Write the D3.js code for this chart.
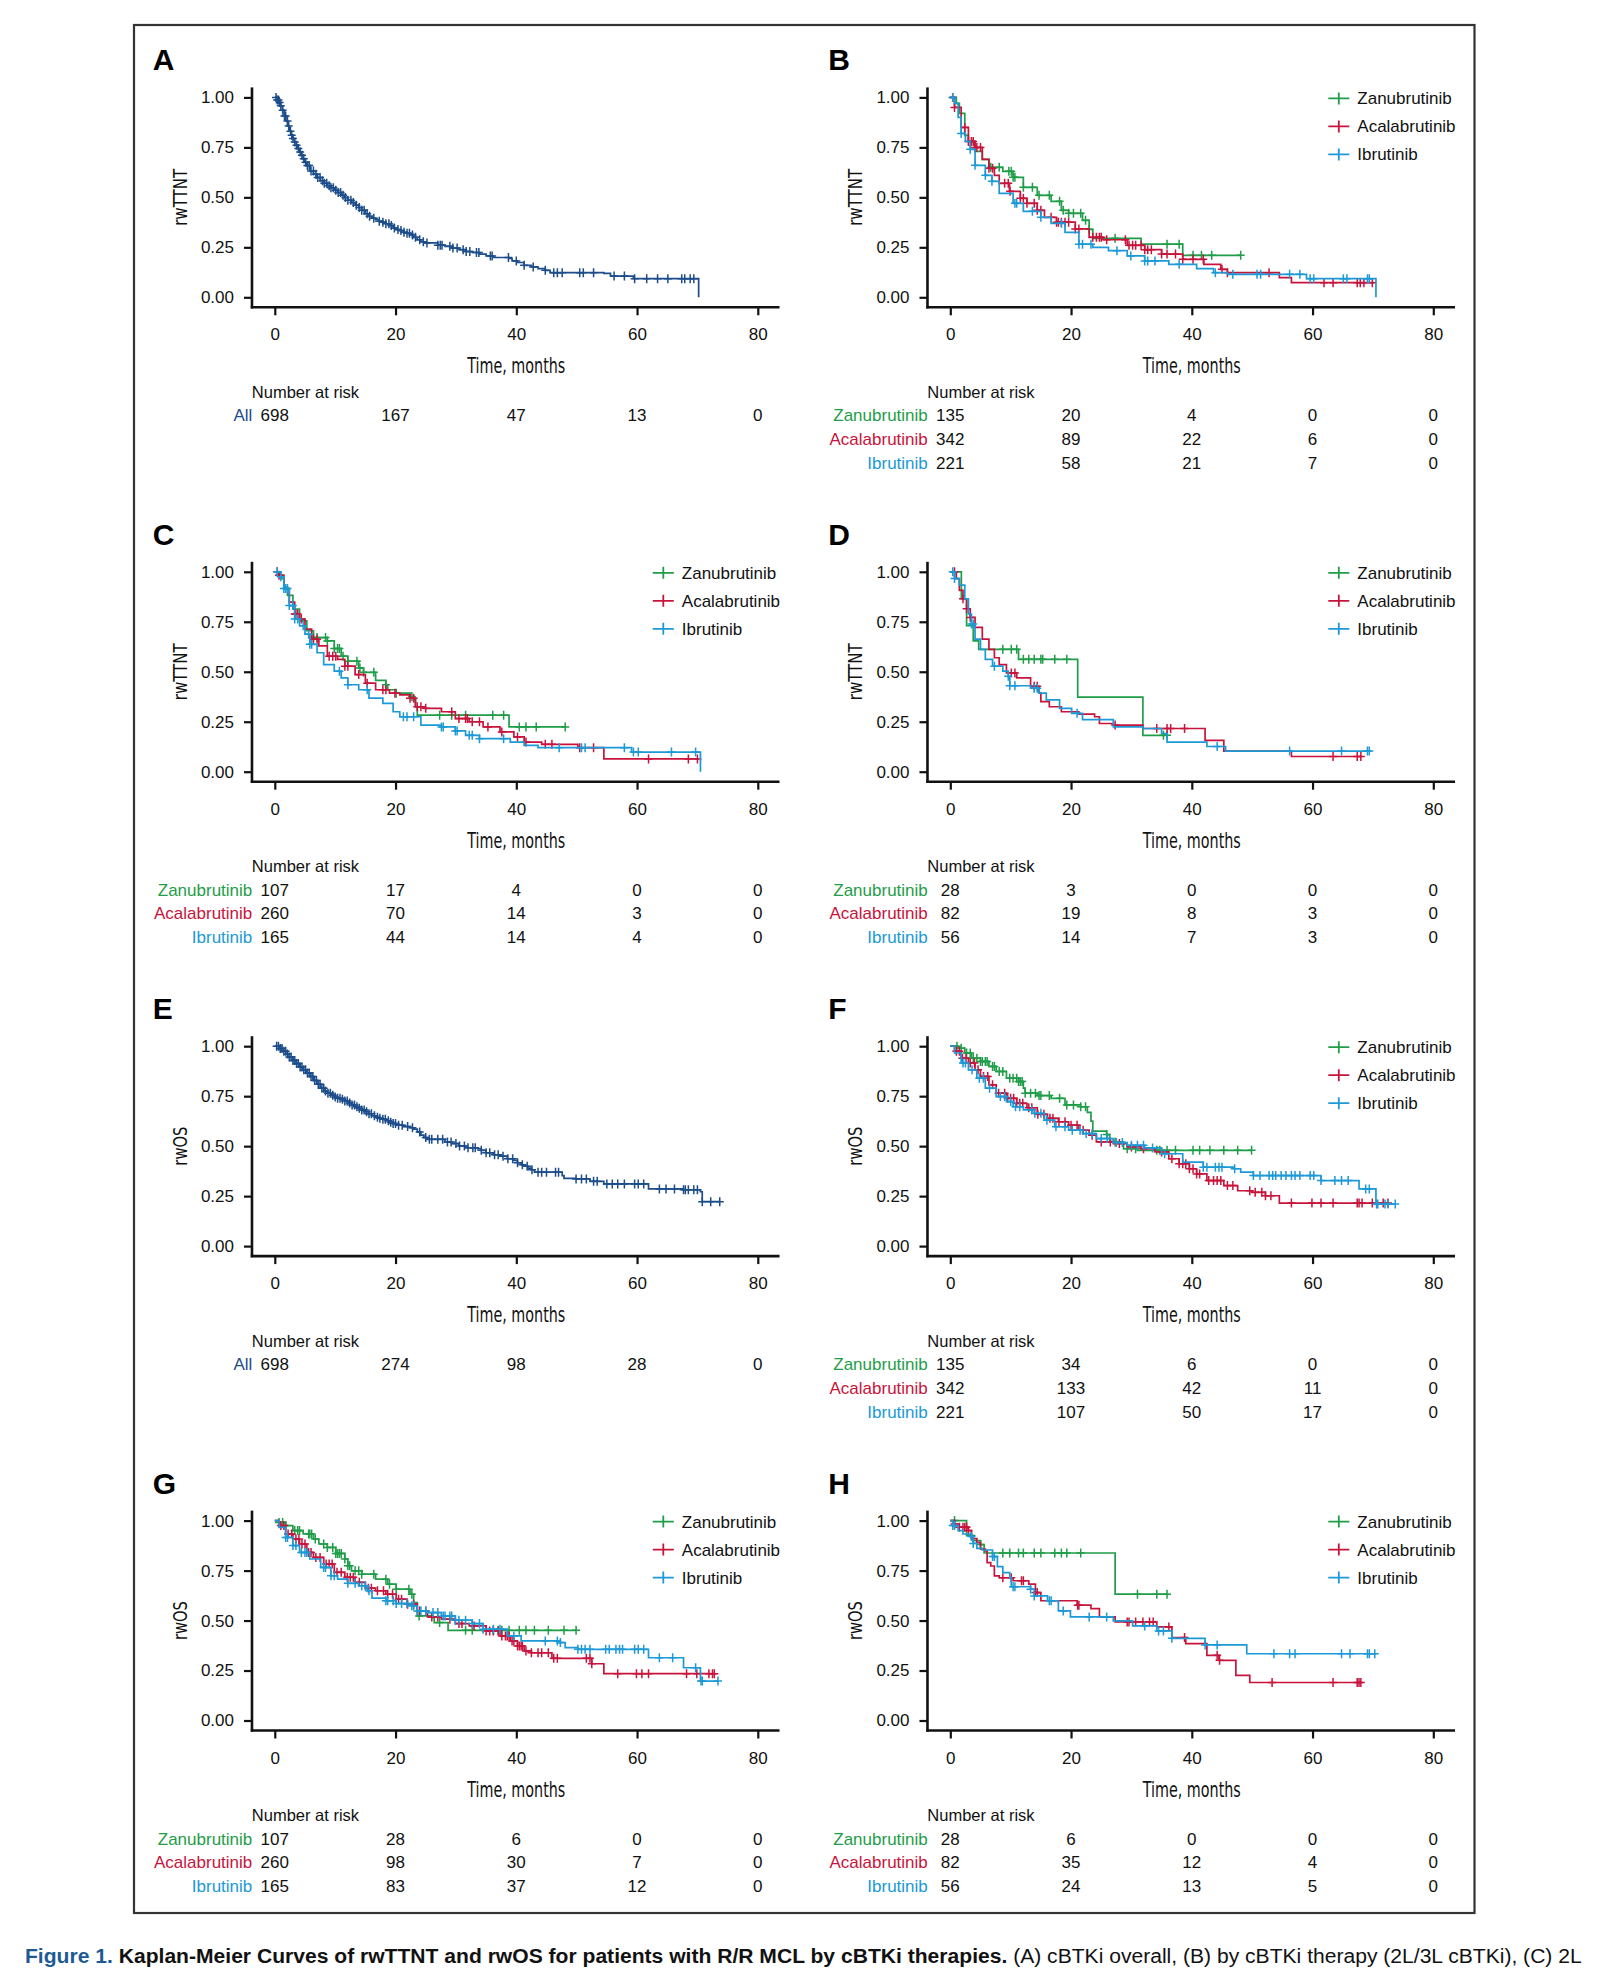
<!DOCTYPE html>
<html><head><meta charset="utf-8">
<script src="https://cdn.jsdelivr.net/npm/d3@7"></script>
<style>html,body{margin:0;padding:0;background:#fff;} svg{display:block;}</style>
</head><body>
<svg id="fig" width="1619" height="1982"></svg>
<script>
// ---------------- DATA ----------------
const timeTicks = [0, 20, 40, 60, 80];
const survTicks = [0, 0.25, 0.5, 0.75, 1];
const groupNames = ["Zanubrutinib", "Acalabrutinib", "Ibrutinib"];
const panelLetters = ["A","B","C","D","E","F","G","H"];
const yLabels = ["rwTTNT","rwTTNT","rwTTNT","rwTTNT","rwOS","rwOS","rwOS","rwOS"];

// Panel A: cBTKi overall, rwTTNT  [time (months), survival] step points
const A_all = [[0,1],[0.4,0.987],[0.69,0.975],[0.97,0.958],[1.26,0.936],[1.55,0.907],[1.83,0.882],[2.12,0.857],[2.4,0.831],[2.69,0.811],[2.98,0.794],[3.26,0.777],[3.55,0.761],[3.84,0.744],[4.12,0.727],[4.41,0.71],[4.69,0.693],[4.98,0.676],[5.27,0.659],[5.84,0.632],[6.41,0.616],[6.98,0.599],[7.56,0.583],[8.13,0.57],[8.7,0.558],[9.27,0.548],[9.85,0.536],[10.42,0.524],[11.0,0.511],[11.6,0.499],[12.1,0.486],[12.7,0.474],[13.3,0.461],[13.9,0.449],[14.4,0.435],[15.0,0.418],[15.6,0.405],[16.1,0.396],[16.7,0.388],[17.3,0.381],[17.9,0.376],[18.4,0.368],[19.0,0.359],[19.6,0.347],[20.1,0.339],[20.7,0.334],[21.3,0.325],[21.9,0.32],[22.4,0.312],[23.0,0.3],[23.6,0.288],[24.2,0.278],[24.7,0.272],[27.0,0.261],[28.2,0.255],[29.3,0.246],[30.5,0.238],[31.6,0.229],[32.7,0.224],[33.9,0.216],[35.0,0.207],[36.2,0.199],[38.8,0.194],[39.3,0.182],[40.2,0.174],[41.3,0.16],[42.5,0.152],[43.6,0.143],[44.8,0.135],[45.6,0.123],[54.5,0.12],[55.6,0.106],[59.4,0.093],[70.2,0.093],[70.2,0]];
const A_allCens = [0.2,0.4,0.6,0.8,1.0,1.3,1.6,1.8,2.1,2.3,2.6,2.8,3.0,3.3,3.6,3.9,4.2,4.5,4.8,5.1,5.4,5.7,6.0,6.4,6.8,7.1,7.5,7.9,8.2,8.6,9.0,9.3,9.7,10.1,10.5,10.9,11.3,11.7,12.1,12.6,13.0,13.5,14.0,14.4,14.8,15.3,15.7,16.4,17.3,17.9,18.4,18.9,19.3,19.8,20.4,20.9,21.4,21.9,22.3,22.8,23.3,24.0,24.6,25.2,27.0,27.4,27.7,29.0,29.5,30.2,31.2,31.7,32.3,33.4,33.8,35.7,36.0,38.7,40.0,41.3,42.8,44.8,46.2,46.8,47.6,50.5,51.1,52.8,56.2,57.9,59.6,61.6,63.4,65.1,67.4,67.9,68.8,69.4];

// Panel B: by cBTKi therapy (2L/3L), rwTTNT
const B_zan = [[0,1],[1.0,0.97],[1.5,0.92],[2.4,0.81],[3.0,0.78],[4.1,0.73],[5.3,0.69],[6.4,0.65],[8.7,0.63],[10.4,0.6],[12.1,0.55],[14.4,0.51],[16.7,0.48],[18.4,0.435],[19.6,0.42],[21.9,0.385],[23.0,0.34],[23.6,0.295],[31.6,0.266],[38.5,0.21],[48.1,0.21]];
const B_zanCens = [6.7,8.1,9.7,10.1,10.4,10.7,12.1,13.6,14.7,16.4,18.1,18.7,19.6,20.4,21.6,22.4,23.0,27.3,35.9,37.9,40.2,41.6,43.3,48.1];
const B_aca = [[0,1],[0.7,0.95],[1.8,0.85],[3.0,0.78],[4.1,0.75],[5.3,0.69],[6.4,0.645],[7.3,0.61],[8.1,0.57],[9.8,0.53],[11.6,0.495],[12.7,0.47],[14.4,0.435],[15.6,0.4],[17.6,0.376],[20.7,0.342],[23.0,0.3],[25.3,0.288],[29.3,0.26],[32.2,0.238],[35.0,0.216],[38.5,0.19],[42.0,0.165],[44.8,0.14],[45.9,0.123],[54.5,0.098],[56.5,0.073],[70.2,0.073]];
const B_acaCens = [0.4,0.7,2.4,3.0,3.5,3.8,4.1,4.4,5.0,6.4,7.0,9.0,9.6,9.9,11.6,12.1,12.7,13.9,14.4,15.0,16.7,17.6,17.9,18.4,19.0,19.6,20.7,21.3,23.6,24.2,24.7,25.0,25.9,29.0,29.6,30.2,30.7,31.6,32.2,32.7,33.3,35.0,35.9,37.3,38.5,40.2,41.9,45.0,45.9,52.8,61.9,63.4,67.4,67.9,68.5,69.9];
const B_ibr = [[0,1],[0.7,0.97],[1.3,0.9],[1.8,0.82],[2.5,0.78],[3.3,0.74],[4.1,0.66],[5.8,0.61],[6.9,0.58],[8.1,0.52],[10.4,0.47],[12.1,0.43],[15.0,0.4],[16.7,0.37],[19.0,0.325],[21.3,0.266],[23.6,0.25],[26.2,0.233],[29.3,0.207],[32.2,0.182],[36.2,0.165],[40.8,0.143],[43.6,0.123],[45.9,0.115],[59.0,0.093],[70.5,0.093],[70.5,0]];
const B_ibrCens = [0.4,1.8,3.3,4.1,5.8,6.9,10.7,11.0,13.6,15.0,18.4,21.3,21.9,23.3,27.6,29.9,32.2,32.7,33.9,37.9,43.9,46.8,50.8,51.4,56.2,57.9,59.6,60.2,65.1,65.7,69.1,69.4];

// Panel C: 2L cBTKi, rwTTNT
const C_zan = [[0,1],[1.0,0.966],[1.5,0.924],[2.1,0.882],[3.0,0.814],[4.1,0.755],[5.3,0.705],[6.4,0.671],[8.7,0.654],[9.85,0.616],[11.0,0.578],[12.1,0.553],[13.9,0.519],[14.7,0.497],[16.7,0.457],[18.4,0.435],[18.7,0.41],[20.1,0.393],[22.4,0.376],[23.0,0.359],[23.3,0.325],[23.6,0.283],[38.8,0.224],[48.1,0.224]];
const C_zanCens = [6.4,7.0,8.4,8.7,9.85,10.4,10.7,11.3,12.1,13.6,14.1,14.7,16.4,18.4,20.1,22.7,27.3,29.3,31.6,36.1,37.9,40.5,41.6,43.3,48.1];
const C_aca = [[0,1],[0.7,0.983],[1.5,0.916],[2.4,0.848],[3.3,0.789],[4.1,0.764],[5.0,0.713],[6.1,0.663],[7.3,0.629],[8.7,0.578],[10.4,0.562],[11.6,0.528],[13.3,0.486],[15.0,0.443],[16.7,0.41],[19.0,0.393],[20.7,0.384],[22.4,0.368],[23.3,0.325],[24.7,0.317],[27.6,0.3],[29.9,0.266],[32.2,0.25],[34.5,0.224],[37.3,0.199],[39.6,0.174],[41.3,0.148],[44.2,0.137],[50.2,0.12],[54.5,0.064],[70.2,0.064]];
const C_acaCens = [0.4,0.7,3.3,3.5,3.8,4.4,6.4,7.0,9.0,9.6,10.1,11.6,12.1,13.9,15.3,17.9,18.4,19.9,22.4,23.0,23.6,24.2,25.0,29.3,30.5,31.6,31.9,32.7,33.9,35.3,37.6,40.2,41.6,44.8,45.9,50.5,52.8,61.9,68.5,70.0];
const C_ibr = [[0,1],[1.0,0.975],[1.5,0.916],[2.4,0.831],[3.3,0.764],[4.1,0.73],[5.0,0.688],[5.8,0.637],[7.0,0.595],[8.1,0.536],[9.85,0.503],[11.0,0.469],[12.1,0.435],[13.9,0.41],[15.6,0.368],[17.9,0.342],[19.6,0.3],[20.7,0.275],[24.2,0.233],[27.6,0.224],[29.9,0.204],[31.6,0.182],[33.9,0.165],[39.0,0.148],[41.3,0.132],[43.6,0.12],[59.1,0.098],[70.5,0.098],[70.5,0]];
const C_ibrCens = [0.4,1.0,1.5,1.8,2.1,2.4,3.0,3.3,3.8,4.7,5.6,5.8,6.1,10.7,12.1,15.3,21.3,21.9,23.0,27.6,27.9,29.9,30.2,32.2,32.7,33.9,37.9,47.1,50.8,51.4,57.9,59.4,60.2,65.7,69.7];

// Panel D: 3L cBTKi, rwTTNT
const D_zan = [[0,1],[1.83,0.865],[2.7,0.73],[3.8,0.654],[4.7,0.612],[11.3,0.562],[21.1,0.373],[31.9,0.182],[36.1,0.182]];
const D_zanCens = [8.7,10.1,11.0,12.1,13.0,13.9,15.0,15.3,17.3,19.3,35.3,35.9];
const D_aca = [[0,1],[1.0,0.966],[1.5,0.907],[2.1,0.865],[2.7,0.815],[3.3,0.772],[4.1,0.722],[5.3,0.663],[6.4,0.612],[7.3,0.57],[8.1,0.536],[9.3,0.494],[11.0,0.469],[13.3,0.427],[14.7,0.393],[15.0,0.351],[16.4,0.325],[18.4,0.3],[21.3,0.288],[23.9,0.275],[24.7,0.241],[27.0,0.233],[31.9,0.216],[42.2,0.157],[45.3,0.103],[56.5,0.076],[68.2,0.076]];
const D_acaCens = [0.7,2.1,2.7,3.3,10.1,10.7,13.9,14.4,27.3,34.2,35.9,36.5,38.8,63.4,67.4,68.0];
const D_ibr = [[0,1],[0.7,0.966],[1.5,0.933],[2.4,0.865],[3.0,0.789],[3.5,0.739],[4.1,0.663],[5.0,0.612],[5.8,0.562],[7.0,0.528],[8.7,0.503],[9.6,0.477],[9.85,0.43],[13.3,0.418],[14.7,0.393],[15.9,0.359],[18.1,0.317],[20.1,0.292],[21.9,0.261],[27.0,0.224],[31.9,0.216],[35.0,0.191],[35.9,0.148],[42.5,0.126],[45.6,0.103],[69.4,0.103]];
const D_ibrCens = [0.4,0.7,3.5,3.8,7.3,9.6,9.85,10.7,13.9,14.4,21.0,44.2,56.2,64.8,69.1,69.4];

// Panel E: cBTKi overall, rwOS
const E_all = [[0,1],[0.69,0.988],[1.26,0.975],[1.83,0.961],[2.4,0.946],[2.98,0.929],[3.55,0.913],[4.12,0.896],[4.69,0.882],[5.27,0.866],[5.84,0.849],[6.41,0.829],[6.98,0.81],[7.56,0.79],[8.13,0.776],[8.7,0.765],[9.27,0.755],[9.85,0.746],[10.4,0.739],[11.0,0.734],[11.6,0.726],[12.1,0.716],[12.7,0.706],[13.3,0.697],[13.9,0.689],[14.4,0.681],[15.0,0.672],[15.6,0.662],[16.1,0.652],[16.7,0.644],[17.3,0.639],[17.9,0.634],[18.4,0.627],[19.0,0.62],[19.6,0.613],[20.1,0.605],[21.3,0.598],[22.4,0.592],[23.0,0.585],[23.6,0.571],[24.2,0.555],[24.7,0.543],[25.3,0.534],[28.2,0.521],[29.3,0.513],[30.5,0.501],[31.6,0.492],[33.6,0.487],[34.2,0.479],[35.0,0.467],[36.2,0.457],[37.3,0.45],[38.5,0.437],[39.6,0.429],[40.2,0.417],[40.8,0.407],[41.3,0.4],[41.9,0.39],[42.5,0.382],[43.0,0.37],[47.6,0.353],[47.9,0.339],[49.9,0.336],[52.2,0.324],[54.5,0.311],[61.9,0.286],[67.7,0.282],[70.5,0.272],[70.8,0.222],[73.7,0.222]];
const E_allCens = [0.3,0.6,0.9,1.2,1.5,1.8,2.1,2.4,2.7,3.0,3.3,3.6,3.9,4.2,4.5,4.8,5.1,5.4,5.7,6.0,6.3,6.6,6.9,7.2,7.5,7.8,8.1,8.4,8.8,9.2,9.6,10.0,10.4,10.8,11.2,11.6,12.0,12.4,12.8,13.2,13.6,14.0,14.4,14.8,15.2,15.6,16.0,16.5,17.0,17.4,17.9,18.3,18.8,19.2,19.6,20.0,20.5,21.1,22.0,22.8,24.0,25.0,25.6,26.0,27.0,27.8,28.6,29.2,30.0,30.6,31.4,32.0,32.8,33.2,34.2,35.0,35.6,36.4,37.0,37.8,38.6,39.4,40.2,41.0,41.8,42.6,43.6,44.2,45.0,46.5,47.0,49.9,50.8,51.6,52.8,53.4,55.0,55.9,56.8,57.9,59.6,60.2,61.1,63.7,64.8,66.2,67.7,68.0,68.5,69.4,70.0,70.8,72.2,73.7];

// Panel F: by cBTKi therapy (2L/3L), rwOS
const F_zan = [[0,1],[1.3,0.99],[2.4,0.966],[3.5,0.94],[5.0,0.924],[6.4,0.899],[7.6,0.874],[9.3,0.84],[11.3,0.824],[12.1,0.79],[12.4,0.765],[14.4,0.753],[16.7,0.739],[19.0,0.706],[21.6,0.697],[22.7,0.669],[23.3,0.625],[23.6,0.575],[25.9,0.558],[26.4,0.524],[27.3,0.521],[28.7,0.487],[31.0,0.479],[49.9,0.479]];
const F_zanCens = [1.1,1.8,2.7,3.3,3.8,4.4,5.0,5.3,5.8,6.1,7.0,7.3,8.1,8.7,9.85,10.4,11.0,11.3,11.6,11.9,12.4,13.3,14.1,14.7,15.0,16.4,18.1,19.3,20.4,21.6,22.4,25.9,27.3,29.3,30.7,34.2,34.7,35.9,37.3,40.2,41.3,43.0,45.3,47.6,49.9];
const F_aca = [[0,1],[0.7,0.975],[1.8,0.94],[3.0,0.916],[4.1,0.882],[5.0,0.849],[6.4,0.807],[7.6,0.765],[9.3,0.739],[11.0,0.714],[12.7,0.692],[14.4,0.659],[16.1,0.639],[17.9,0.622],[19.6,0.605],[21.3,0.58],[23.0,0.555],[24.2,0.521],[27.0,0.513],[29.3,0.496],[31.6,0.487],[33.9,0.471],[36.2,0.437],[37.9,0.412],[39.6,0.387],[40.8,0.361],[42.5,0.328],[45.3,0.303],[47.6,0.277],[49.9,0.269],[52.2,0.252],[54.5,0.215],[72.5,0.215]];
const F_acaCens = [1.0,1.5,2.0,2.6,3.3,4.0,4.6,5.5,6.2,7.0,8.0,9.0,9.5,10.0,10.5,11.0,11.5,12.0,13.0,13.5,14.5,15.5,16.5,17.0,18.0,19.0,20.0,21.0,22.0,23.5,25.0,26.5,28.0,30.0,32.0,35.0,36.7,37.9,38.5,39.0,39.6,40.2,40.8,41.3,42.8,43.6,44.2,44.8,45.9,46.8,49.6,50.5,51.6,52.2,53.1,56.5,59.9,61.4,63.4,67.4,67.7,68.2,69.9,71.7,72.5];
const F_ibr = [[0,1],[0.7,0.966],[1.8,0.916],[3.0,0.882],[4.4,0.84],[5.8,0.79],[7.6,0.748],[9.3,0.723],[10.4,0.697],[12.1,0.681],[13.9,0.664],[15.6,0.63],[17.3,0.597],[19.6,0.58],[21.9,0.563],[24.2,0.538],[27.0,0.518],[29.3,0.504],[32.2,0.491],[35.0,0.462],[38.5,0.42],[41.9,0.395],[47.0,0.387],[48.1,0.37],[50.2,0.353],[61.4,0.328],[67.7,0.286],[70.5,0.21],[73.7,0.21]];
const F_ibrCens = [2.1,2.5,3.6,4.8,5.5,6.5,8.3,9.0,10.0,10.8,11.5,13.5,14.0,15.0,16.0,17.5,19.0,20.2,21.5,22.5,23.5,25.0,26.0,27.5,28.5,30.0,31.0,32.0,33.5,35.5,41.9,42.5,43.9,44.5,45.0,47.1,50.2,51.3,52.8,53.4,53.9,54.8,55.6,56.5,57.1,57.9,59.6,60.2,61.4,63.7,64.8,65.9,68.8,69.4,70.6,70.8,72.0,72.5,73.7];

// Panel G: 2L cBTKi, rwOS
const G_zan = [[0,1],[0.7,0.99],[1.8,0.975],[3.0,0.95],[4.7,0.933],[6.4,0.908],[7.3,0.883],[8.7,0.866],[10.1,0.836],[11.6,0.808],[12.1,0.774],[12.7,0.749],[14.4,0.732],[16.7,0.707],[18.7,0.682],[20.1,0.657],[22.4,0.632],[23.0,0.59],[23.6,0.523],[26.2,0.515],[26.4,0.49],[28.7,0.451],[49.9,0.451]];
const G_zanCens = [0.7,1.3,1.8,3.3,3.8,4.1,5.6,5.8,6.1,6.7,8.1,8.7,9.6,10.1,10.4,10.7,11.0,11.6,12.1,12.4,13.3,13.9,14.4,16.4,18.4,19.0,20.1,22.2,22.7,23.9,27.3,31.6,32.7,36.2,37.0,37.6,38.8,40.5,41.6,43.0,45.3,47.9,49.9];
const G_aca = [[0,1],[0.7,0.975],[1.8,0.933],[3.0,0.908],[4.1,0.883],[5.3,0.841],[6.4,0.816],[8.1,0.783],[9.85,0.741],[11.6,0.716],[13.3,0.691],[15.0,0.662],[16.7,0.649],[18.4,0.632],[20.1,0.607],[21.9,0.582],[23.6,0.548],[25.3,0.518],[27.6,0.507],[29.9,0.485],[32.2,0.473],[35.0,0.448],[37.3,0.423],[39.0,0.398],[40.2,0.373],[41.3,0.348],[42.5,0.339],[45.9,0.311],[52.5,0.284],[54.5,0.234],[72.8,0.234]];
const G_acaCens = [1.0,1.5,2.2,2.8,3.5,4.0,4.5,5.0,5.6,6.0,6.8,7.5,8.5,9.0,9.5,10.3,11.0,12.0,12.5,13.0,14.0,15.5,16.0,17.0,18.0,18.7,19.5,20.5,21.0,22.0,23.0,24.0,25.0,26.0,27.0,29.0,30.5,31.0,33.0,35.0,35.6,36.2,37.0,37.6,38.2,38.5,38.8,39.3,39.6,40.2,40.5,40.8,41.0,41.6,42.5,43.6,44.2,45.3,46.2,46.8,51.6,52.2,52.5,56.8,59.9,60.8,61.9,68.2,69.9,71.9,72.5,72.8];
const G_ibr = [[0,1],[0.7,0.966],[1.8,0.916],[3.0,0.875],[4.1,0.841],[5.8,0.808],[7.6,0.766],[9.3,0.724],[10.4,0.707],[12.1,0.686],[13.9,0.674],[15.3,0.649],[16.1,0.612],[18.4,0.599],[20.1,0.585],[22.4,0.574],[23.6,0.548],[25.3,0.54],[27.6,0.523],[29.9,0.502],[32.7,0.485],[34.5,0.457],[38.5,0.423],[40.8,0.398],[47.0,0.39],[48.1,0.365],[50.2,0.356],[61.9,0.314],[67.7,0.264],[70.5,0.197],[73.4,0.197]];
const G_ibrCens = [1.8,2.1,3.0,3.5,4.4,5.0,5.3,8.1,8.4,9.3,9.85,12.1,13.3,14.4,15.0,15.6,18.4,18.7,19.6,20.1,21.0,21.9,22.7,23.0,23.6,24.2,25.0,26.2,27.0,27.9,28.2,29.0,29.3,29.9,30.5,31.6,32.7,33.9,34.5,36.2,37.3,39.6,44.8,46.8,47.3,50.2,50.8,51.4,52.2,54.8,55.4,56.5,57.1,57.6,59.6,60.2,61.1,63.7,65.9,69.7,70.6,70.8,73.4];

// Panel H: 3L cBTKi, rwOS
const H_zan = [[0,1],[2.7,0.925],[3.8,0.9],[5.0,0.88],[5.6,0.838],[27.3,0.632],[36.1,0.632]];
const H_zanCens = [0.7,3.5,5.0,8.7,9.85,11.3,12.1,13.9,15.0,17.3,18.4,19.3,21.6,31.0,34.2,35.9];
const H_aca = [[0,1],[0.7,0.983],[1.5,0.967],[3.0,0.95],[3.5,0.91],[4.4,0.89],[5.0,0.857],[5.8,0.848],[6.1,0.79],[6.7,0.773],[7.3,0.723],[8.1,0.714],[10.4,0.699],[13.0,0.682],[14.1,0.64],[15.0,0.599],[21.0,0.577],[23.3,0.56],[24.7,0.518],[27.3,0.493],[34.2,0.468],[36.7,0.415],[39.0,0.385],[42.5,0.326],[44.5,0.301],[47.3,0.226],[49.6,0.19],[68.2,0.19]];
const H_acaCens = [0.7,1.5,2.1,2.4,2.7,3.0,8.7,10.1,11.8,12.1,14.1,14.4,21.1,21.3,29.3,29.6,30.7,31.9,33.0,33.6,36.2,38.8,44.2,44.6,53.3,63.4,67.4,67.7,68.0];
const H_ibr = [[0,1],[0.4,0.975],[1.3,0.95],[2.1,0.933],[3.3,0.92],[3.8,0.886],[4.4,0.861],[5.3,0.853],[7.0,0.82],[7.8,0.77],[8.7,0.74],[9.85,0.716],[10.1,0.669],[13.3,0.657],[13.9,0.623],[16.1,0.599],[17.9,0.548],[19.9,0.518],[27.0,0.498],[30.2,0.473],[34.2,0.448],[36.7,0.411],[42.2,0.378],[49.1,0.334],[70.5,0.334]];
const H_ibrCens = [0.4,0.7,3.5,3.8,7.0,7.3,10.4,10.7,13.3,13.9,16.4,16.7,18.7,23.0,25.9,32.2,34.5,35.3,36.7,42.2,44.2,53.6,56.2,57.1,64.8,66.2,69.1,69.4,70.3];

// Number at risk (at 0, 20, 40, 60, 80 months)
const riskA_all = [698,167,47,13,0];
const riskB_zan = [135,20,4,0,0], riskB_aca = [342,89,22,6,0], riskB_ibr = [221,58,21,7,0];
const riskC_zan = [107,17,4,0,0], riskC_aca = [260,70,14,3,0], riskC_ibr = [165,44,14,4,0];
const riskD_zan = [28,3,0,0,0], riskD_aca = [82,19,8,3,0], riskD_ibr = [56,14,7,3,0];
const riskE_all = [698,274,98,28,0];
const riskF_zan = [135,34,6,0,0], riskF_aca = [342,133,42,11,0], riskF_ibr = [221,107,50,17,0];
const riskG_zan = [107,28,6,0,0], riskG_aca = [260,98,30,7,0], riskG_ibr = [165,83,37,12,0];
const riskH_zan = [28,6,0,0,0], riskH_aca = [82,35,12,4,0], riskH_ibr = [56,24,13,5,0];

const captionBlue = "Figure 1.";
const captionBold = " Kaplan-Meier Curves of rwTTNT and rwOS for patients with R/R MCL by cBTKi therapies.";
const captionNormal = " (A) cBTKi overall, (B) by cBTKi therapy (2L/3L cBTKi), (C) 2L";

// ---------------- STYLE ----------------
const COL_ALL = "#1c4d8a", COL_ZAN = "#1f9d48", COL_ACA = "#c8143c", COL_IBR = "#1c99d6";
const groupColors = [COL_ZAN, COL_ACA, COL_IBR];
const FONT = "'Liberation Sans', Arial, Helvetica, sans-serif";
const NARROW = "'Liberation Sans Narrow', 'DejaVu Sans Condensed', 'Liberation Sans', sans-serif";

const svg = d3.select("#fig");
svg.append("rect").attr("width",1619).attr("height",1982).attr("fill","#fff");
svg.append("rect").attr("x",134).attr("y",25).attr("width",1340.5).attr("height",1888)
  .attr("fill","none").attr("stroke","#333").attr("stroke-width",2.2);

const panels = [
  {s:[{c:COL_ALL,d:A_all,k:A_allCens}], risk:[["All",COL_ALL,riskA_all]], legend:false},
  {s:[{c:COL_ZAN,d:B_zan,k:B_zanCens},{c:COL_ACA,d:B_aca,k:B_acaCens},{c:COL_IBR,d:B_ibr,k:B_ibrCens}], risk:[[groupNames[0],COL_ZAN,riskB_zan],[groupNames[1],COL_ACA,riskB_aca],[groupNames[2],COL_IBR,riskB_ibr]], legend:true},
  {s:[{c:COL_ZAN,d:C_zan,k:C_zanCens},{c:COL_ACA,d:C_aca,k:C_acaCens},{c:COL_IBR,d:C_ibr,k:C_ibrCens}], risk:[[groupNames[0],COL_ZAN,riskC_zan],[groupNames[1],COL_ACA,riskC_aca],[groupNames[2],COL_IBR,riskC_ibr]], legend:true},
  {s:[{c:COL_ZAN,d:D_zan,k:D_zanCens},{c:COL_ACA,d:D_aca,k:D_acaCens},{c:COL_IBR,d:D_ibr,k:D_ibrCens}], risk:[[groupNames[0],COL_ZAN,riskD_zan],[groupNames[1],COL_ACA,riskD_aca],[groupNames[2],COL_IBR,riskD_ibr]], legend:true},
  {s:[{c:COL_ALL,d:E_all,k:E_allCens}], risk:[["All",COL_ALL,riskE_all]], legend:false},
  {s:[{c:COL_ZAN,d:F_zan,k:F_zanCens},{c:COL_ACA,d:F_aca,k:F_acaCens},{c:COL_IBR,d:F_ibr,k:F_ibrCens}], risk:[[groupNames[0],COL_ZAN,riskF_zan],[groupNames[1],COL_ACA,riskF_aca],[groupNames[2],COL_IBR,riskF_ibr]], legend:true},
  {s:[{c:COL_ZAN,d:G_zan,k:G_zanCens},{c:COL_ACA,d:G_aca,k:G_acaCens},{c:COL_IBR,d:G_ibr,k:G_ibrCens}], risk:[[groupNames[0],COL_ZAN,riskG_zan],[groupNames[1],COL_ACA,riskG_aca],[groupNames[2],COL_IBR,riskG_ibr]], legend:true},
  {s:[{c:COL_ZAN,d:H_zan,k:H_zanCens},{c:COL_ACA,d:H_aca,k:H_acaCens},{c:COL_IBR,d:H_ibr,k:H_ibrCens}], risk:[[groupNames[0],COL_ZAN,riskH_zan],[groupNames[1],COL_ACA,riskH_aca],[groupNames[2],COL_IBR,riskH_ibr]], legend:true}
];

function stepValue(curve, t){
  let v = curve[0][1];
  for (const p of curve){ if (p[0] <= t) v = p[1]; else break; }
  return v;
}

panels.forEach((p, i) => {
  const col = i % 2, row = Math.floor(i / 2);
  const x0 = 274.8 + col * 675.5;
  const yTop = 97.4 + row * 474.4;
  const x = d3.scaleLinear().domain([0, 80]).range([x0, x0 + 483]);
  const y = d3.scaleLinear().domain([0, 1]).range([yTop + 199.9, yTop]);
  const g = svg.append("g");
  const axX = x(-3.78), axY = y(-0.05);

  // panel letter
  g.append("text").attr("x", x0 - 122).attr("y", yTop - 27)
    .attr("font-family", FONT).attr("font-weight", "bold").attr("font-size", 30).text(panelLetters[i]);

  // y axis
  const ya = g.append("g").attr("transform", `translate(${axX},0)`)
    .call(d3.axisLeft(y).tickValues(survTicks).tickFormat(d3.format(".2f")).tickSize(8).tickPadding(10));
  // x axis
  const xa = g.append("g").attr("transform", `translate(0,${axY})`)
    .call(d3.axisBottom(x).tickValues(timeTicks).tickSize(8).tickPadding(13));
  [ya, xa].forEach(a => {
    a.select(".domain").remove();
    a.selectAll(".tick line").attr("stroke", "#111").attr("stroke-width", 2.2);
    a.selectAll(".tick text").attr("font-family", FONT).attr("font-size", 17).attr("fill", "#111");
  });
  g.append("line").attr("x1", axX).attr("x2", axX).attr("y1", y(1.05)).attr("y2", axY + 1.2)
    .attr("stroke", "#111").attr("stroke-width", 2.6);
  g.append("line").attr("x1", axX - 1.2).attr("x2", x(83.6)).attr("y1", axY).attr("y2", axY)
    .attr("stroke", "#111").attr("stroke-width", 2.6);

  // axis titles
  g.append("text").attr("x", x(40)).attr("y", yTop + 199.9 + 76).attr("text-anchor", "middle")
    .attr("font-family", NARROW).attr("font-size", 21).attr("fill", "#111")
    .attr("textLength", 98).attr("lengthAdjust", "spacingAndGlyphs").text("Time, months");
  const yl = yLabels[i];
  g.append("text").attr("transform", `translate(${x0 - 88},${y(0.5)}) rotate(-90)`).attr("text-anchor", "middle")
    .attr("font-family", NARROW).attr("font-size", 20).attr("fill", "#111")
    .attr("textLength", yl === "rwOS" ? 39 : 57).attr("lengthAdjust", "spacingAndGlyphs").text(yl);

  // curves
  const line = d3.line().x(d => x(d[0])).y(d => y(d[1])).curve(d3.curveStepAfter);
  p.s.forEach(s => {
    g.append("path").attr("d", line(s.d)).attr("fill", "none").attr("stroke", s.c).attr("stroke-width", 1.7);
    g.append("g").selectAll("path").data(s.k).join("path")
      .attr("d", t => { const cx = x(t), cy = y(stepValue(s.d, t)); return `M${cx-4},${cy}h8M${cx},${cy-4.5}v9`; })
      .attr("stroke", s.c).attr("stroke-width", 1.5).attr("fill", "none");
  });

  // legend
  if (p.legend) {
    groupNames.forEach((nm, j) => {
      const cy = yTop + 1 + j * 28;
      const lx = x0 + 378;
      g.append("path").attr("d", `M${lx},${cy}h21M${lx + 10.5},${cy - 6}v12`)
        .attr("stroke", groupColors[j]).attr("stroke-width", 1.8).attr("fill", "none");
      g.append("text").attr("x", lx + 29).attr("y", cy + 6).attr("font-family", FONT)
        .attr("font-size", 17).attr("fill", "#111").text(nm);
    });
  }

  // number at risk
  const y0 = yTop + 199.9;
  g.append("text").attr("x", x0 - 23).attr("y", y0 + 100.5).attr("font-family", FONT)
    .attr("font-size", 16.5).attr("fill", "#111").text("Number at risk");
  const rowBase = [124, 147.5, 171.5];
  p.risk.forEach((r, j) => {
    const by = y0 + rowBase[j];
    g.append("text").attr("x", x0 - 22.5).attr("y", by).attr("text-anchor", "end")
      .attr("font-family", FONT).attr("font-size", 17).attr("fill", r[1]).text(r[0]);
    g.append("g").selectAll("text").data(r[2]).join("text")
      .attr("x", (d, k) => x(timeTicks[k])).attr("y", by).attr("text-anchor", "middle")
      .attr("font-family", FONT).attr("font-size", 17).attr("fill", "#111").text(d => d);
  });
});

// caption
const cap = svg.append("g");
const ct = cap.append("text").attr("x", 25).attr("y", 1963).attr("font-family", FONT).attr("font-size", 21);
ct.append("tspan").attr("font-weight", "bold").attr("fill", "#1d5a94").text(captionBlue);
ct.append("tspan").attr("font-weight", "bold").attr("fill", "#111").text(captionBold);
ct.append("tspan").attr("fill", "#111").text(captionNormal);
const w = ct.node().getComputedTextLength();
const sx = (1583 - 25) / w;
cap.attr("transform", `translate(25,0) scale(${sx},1) translate(-25,0)`);
</script>
</body></html>
